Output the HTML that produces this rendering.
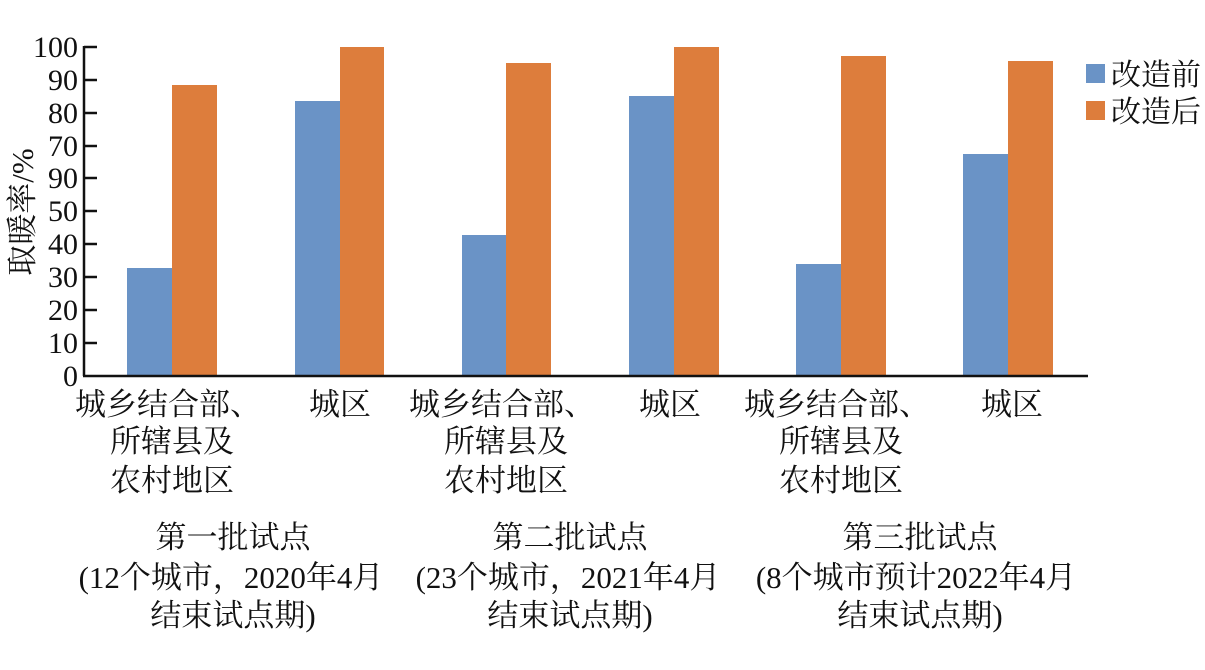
<!DOCTYPE html>
<html><head><meta charset="utf-8"><style>
body{margin:0;background:#fff}
svg text{font-family:"Liberation Serif","Noto Serif CJK SC",serif;fill:#111}
</style></head><body>
<svg width="1205" height="665" viewBox="0 0 1205 665" xmlns="http://www.w3.org/2000/svg">
<g fill="#6a93c6">
<rect x="127" y="268" width="45" height="107"/>
<rect x="295" y="101" width="45" height="274"/>
<rect x="462" y="235" width="44" height="140"/>
<rect x="629" y="96" width="45" height="279"/>
<rect x="796" y="264" width="45" height="111"/>
<rect x="963" y="154" width="45" height="221"/>
</g>
<g fill="#dd7d3c">
<rect x="172" y="85" width="45" height="290"/>
<rect x="340" y="47" width="44" height="328"/>
<rect x="506" y="63" width="45" height="312"/>
<rect x="674" y="47" width="45" height="328"/>
<rect x="841" y="56" width="45" height="319"/>
<rect x="1008" y="61" width="45" height="314"/>
</g>
<g stroke="#111" stroke-width="2.5">
<line x1="84" y1="46" x2="84" y2="376"/>
<line x1="83" y1="376" x2="1088" y2="376"/>
<line x1="84" y1="47" x2="97" y2="47"/>
<line x1="84" y1="80" x2="97" y2="80"/>
<line x1="84" y1="113" x2="97" y2="113"/>
<line x1="84" y1="146" x2="97" y2="146"/>
<line x1="84" y1="178" x2="97" y2="178"/>
<line x1="84" y1="211" x2="97" y2="211"/>
<line x1="84" y1="244" x2="97" y2="244"/>
<line x1="84" y1="277" x2="97" y2="277"/>
<line x1="84" y1="310" x2="97" y2="310"/>
<line x1="84" y1="343" x2="97" y2="343"/>
</g>
<g font-size="30" text-anchor="end">
<text x="78" y="57">100</text>
<text x="78" y="90">90</text>
<text x="78" y="123">80</text>
<text x="78" y="156">70</text>
<text x="78" y="188">90</text>
<text x="78" y="221">50</text>
<text x="78" y="254">40</text>
<text x="78" y="287">30</text>
<text x="78" y="320">20</text>
<text x="78" y="353">10</text>
<text x="78" y="386">0</text>
</g>
<text transform="translate(33,212) rotate(-90)" font-size="31" text-anchor="middle">取暖率/%</text>
<g font-size="31" text-anchor="middle">
<text x="168" y="415">城乡结合部、</text><text x="172" y="452">所辖县及</text><text x="172" y="491">农村地区</text>
<text x="340" y="415">城区</text>
<text x="502" y="415">城乡结合部、</text><text x="506" y="452">所辖县及</text><text x="506" y="491">农村地区</text>
<text x="670" y="415">城区</text>
<text x="837" y="415">城乡结合部、</text><text x="841" y="452">所辖县及</text><text x="841" y="491">农村地区</text>
<text x="1012" y="415">城区</text>
<text x="233" y="548">第一批试点</text><text x="231" y="588">(12个城市，2020年4月</text><text x="233" y="626">结束试点期)</text>
<text x="570" y="548">第二批试点</text><text x="568" y="588">(23个城市，2021年4月</text><text x="570" y="626">结束试点期)</text>
<text x="920" y="548">第三批试点</text><text x="916" y="588">(8个城市预计2022年4月</text><text x="920" y="626">结束试点期)</text>
</g>
<rect x="1086" y="64" width="19" height="19" fill="#6a93c6"/>
<rect x="1086" y="101" width="19" height="19" fill="#dd7d3c"/>
<text x="1111" y="85" font-size="30">改造前</text>
<text x="1111" y="122" font-size="30">改造后</text>
</svg>
</body></html>
